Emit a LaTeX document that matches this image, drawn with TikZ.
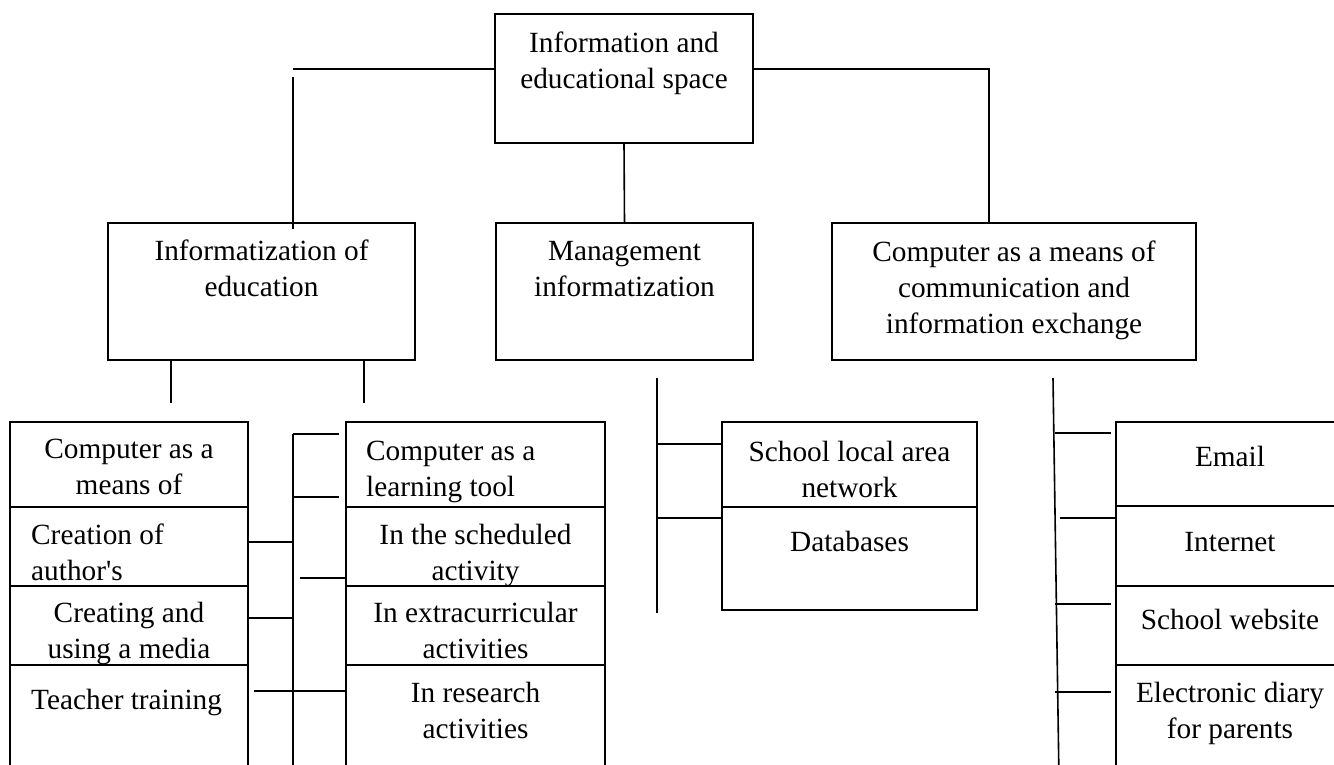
\documentclass[tikz,border=0pt]{standalone}
\usepackage{fontspec}
\setmainfont{Liberation Serif}
\usetikzlibrary{positioning}

\tikzstyle{box} = [draw,line width=1.6pt,anchor=north west,inner sep=0pt,outer sep=0pt]
\tikzstyle{txt} = [anchor=north,align=center,inner sep=0pt,font=\fontsize{29.3}{36}\selectfont,execute at begin node=\strut]
\tikzstyle{lft} = [txt,align=left,anchor=north west]
\tikzstyle{line} = [draw,line width=1.6pt]

\begin{document}
\begin{tikzpicture}[x=1pt,y=-1pt]
\useasboundingbox (0,0) rectangle (1334,764);
% top
\node[box,minimum width=258pt,minimum height=129pt] (root) at (495,14) {};
\node[txt,below=18pt of root.north] (root-t) {Information and\\educational space};
% second level
\node[box,minimum width=307pt,minimum height=137pt] (edu) at (108,223) {};
\node[txt,below=17pt of edu.north] (edu-t) {Informatization of\\education};
\node[box,minimum width=257pt,minimum height=137pt] (mgmt) at (496,223) {};
\node[txt,below=18pt of mgmt.north] (mgmt-t) {Management\\informatization};
\node[box,minimum width=364pt,minimum height=137pt] (comm) at (832,223) {};
\node[txt,below=18pt of comm.north] (comm-t) {Computer as a means of\\communication and\\information exchange};
% left column
\node[box,minimum width=238pt,minimum height=85pt] (l1) at (10,422) {};
\node[txt,below=17pt of l1.north] (l1-t) {Computer as a\\means of};
\node[box,minimum width=238pt,minimum height=79pt] (l2) at (10,507) {};
\node[lft,below right=17pt and 21pt of l2.north west] (l2-t) {Creation of\\author\textquotesingle s};
\node[box,minimum width=238pt,minimum height=79pt] (l3) at (10,586) {};
\node[txt,below=16pt of l3.north] (l3-t) {Creating and\\using a media};
\node[box,minimum width=238pt,minimum height=135pt] (l4) at (10,665) {};
\node[lft,below right=19pt and 21pt of l4.north west] (l4-t) {Teacher training};
% learning column
\node[box,minimum width=259pt,minimum height=85pt] (m1) at (346,422) {};
\node[lft,below right=19pt and 20pt of m1.north west] (m1-t) {Computer as a\\learning tool};
\node[box,minimum width=259pt,minimum height=79pt] (m2) at (346,507) {};
\node[txt,below=17pt of m2.north] (m2-t) {In the scheduled\\activity};
\node[box,minimum width=259pt,minimum height=79pt] (m3) at (346,586) {};
\node[txt,below=16pt of m3.north] (m3-t) {In extracurricular\\activities};
\node[box,minimum width=259pt,minimum height=135pt] (m4) at (346,665) {};
\node[txt,below=17pt of m4.north] (m4-t) {In research\\activities};
% management column
\node[box,minimum width=255pt,minimum height=85pt] (s1) at (722,422) {};
\node[txt,below=19pt of s1.north] (s1-t) {School local area\\network};
\node[box,minimum width=255pt,minimum height=103pt] (s2) at (722,507) {};
\node[txt,below=19pt of s2.north] (s2-t) {Databases};
% communication column
\node[box,minimum width=228pt,minimum height=84pt] (r1) at (1116,422) {};
\node[txt,below=19pt of r1.north] (r1-t) {Email};
\node[box,minimum width=228pt,minimum height=80pt] (r2) at (1116,506) {};
\node[txt,below=20pt of r2.north] (r2-t) {Internet};
\node[box,minimum width=228pt,minimum height=79pt] (r3) at (1116,586) {};
\node[txt,below=18pt of r3.north] (r3-t) {School website};
\node[box,minimum width=228pt,minimum height=135pt] (r4) at (1116,665) {};
\node[txt,below=17pt of r4.north] (r4-t) {Electronic diary\\for parents};
% upper connectors
\coordinate (lt) at (293,69);
\coordinate (lb) at (293,229);
\coordinate (rt) at (989,69);
\draw[line] (root.west |- lt) -- (lt);
\draw[line] ([yshift=-8pt]lt) -- (lb);
\draw[line] (root.east |- rt) -- (rt) -- (rt |- comm.north);
\draw[line] (root.south) -- (mgmt.north);
\coordinate (ea) at (171,403);
\coordinate (eb) at (364,403);
\draw[line] (ea |- edu.south) -- (ea);
\draw[line] (eb |- edu.south) -- (eb);
% left bus
\coordinate (b1) at (293,434);
\coordinate (b2) at (293,497);
\coordinate (b3) at (293,542);
\coordinate (b4) at (300,578);
\coordinate (b5) at (293,618);
\coordinate (b6) at (254,691);
\coordinate (bb) at (293,780);
\draw[line] (b1) -- (bb);
\draw[line] (b1) -- ([xshift=-7pt]b1 -| m1.west);
\draw[line] (b2) -- ([xshift=-7pt]b2 -| m1.west);
\draw[line] (l2.east |- b3) -- (b3);
\draw[line] (b4) -- (b4 -| m2.west);
\draw[line] (l3.east |- b5) -- (b5);
\draw[line] (b6) -- (b6 -| m4.west);
% management bus
\coordinate (st) at (657,378);
\coordinate (sb) at (657,613);
\coordinate (sa1) at (657,444);
\coordinate (sa2) at (657,518);
\draw[line] (st) -- (sb);
\draw[line] (sa1) -- (sa1 -| s1.west);
\draw[line] (sa2) -- (sa2 -| s2.west);
% communication bus
\coordinate (rt2) at (1053,378);
\coordinate (rb2) at (1059,780);
\coordinate (ra) at (1055,433);
\coordinate (rb) at (1060,518);
\coordinate (rc) at (1055,604);
\coordinate (rd) at (1055,692);
\draw[line] (rt2) -- (rb2);
\draw[line] (ra) -- ([xshift=-5pt]ra -| r1.west);
\draw[line] (rb) -- (rb -| r2.west);
\draw[line] (rc) -- ([xshift=-5pt]rc -| r3.west);
\draw[line] (rd) -- ([xshift=-5pt]rd -| r4.west);
\end{tikzpicture}
\end{document}
